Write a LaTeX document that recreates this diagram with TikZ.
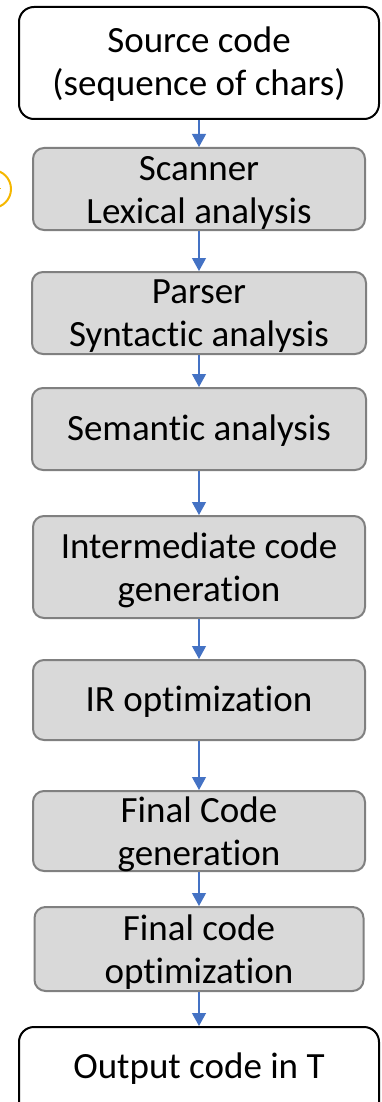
\documentclass[tikz,border=0pt]{standalone}
\usepackage{fontspec}
\setmainfont[Ligatures={NoCommon}]{Carlito}
\usetikzlibrary{arrows.meta}
\begin{document}
\begin{tikzpicture}[x=1pt,y=-1pt,
  endbox/.style={draw=black, line width=2pt, rounded corners=15pt, fill=white, inner sep=0pt},
  stepbox/.style={draw=black!50, line width=2pt, rounded corners=11pt, fill=black!15, inner sep=0pt},
  txt/.style={font=\fontsize{37}{43}\selectfont, align=center, inner sep=0pt},
  flow/.style={draw={rgb,255:red,68;green,114;blue,196}, line width=1.2pt, -{Triangle[length=13pt,width=14pt]}, shorten >=0pt},
]
\useasboundingbox (0,0) rectangle (381,1102);
\clip (0,0) rectangle (381,1102);
% orange partial circle
\draw[draw={rgb,255:red,245;green,183;blue,0}, line width=2pt] (-8,189) circle (19);
\draw[draw={rgb,255:red,245;green,183;blue,0}, line width=1pt] (-2,189) -- (1,189);
% boxes
\node[endbox, minimum width=360pt, minimum height=112pt] (src) at (199,63) {};
\node[stepbox, minimum width=332pt, minimum height=82pt] (scan) at (199,189) {};
\node[stepbox, minimum width=334pt, minimum height=82pt] (pars) at (199,313) {};
\node[stepbox, minimum width=334pt, minimum height=82pt] (sem) at (199,429) {};
\node[stepbox, minimum width=332pt, minimum height=102pt] (inter) at (199,567) {};
\node[stepbox, minimum width=332pt, minimum height=80pt] (ir) at (199,700) {};
\node[stepbox, minimum width=332pt, minimum height=80pt] (fcg) at (199,831) {};
\node[stepbox, minimum width=329pt, minimum height=84pt] (fco) at (199,949) {};
\node[endbox, minimum width=360pt, minimum height=100pt] (out) at (199,1077) {};
% texts
\node[txt] (tsrc) at (199,64) {Source code\\(sequence of chars)};
\node[txt] (tscan) at (199,193) {Scanner\\Lexical analysis};
\node[txt] (tpars) at (199,316) {Parser\\Syntactic analysis};
\node[txt] (tsem) at (199,431) {Semantic analysis};
\node[txt] (tinter) at (199,570) {Intermediate code\\generation};
\node[txt] (tir) at (199,702) {IR optimization};
\node[txt] (tfcg) at (199,834) {Final Code\\generation};
\node[txt] (tfco) at (199,952) {Final code\\optimization};
\node[txt] (tout) at (199,1069) {Output code in T};
% arrows
\draw[flow] (src.south) -- (scan.north);
\draw[flow] (scan.south) -- (pars.north);
\draw[flow] (pars.south) -- (sem.north);
\draw[flow] (sem.south) -- (inter.north);
\draw[flow] (inter.south) -- (ir.north);
\draw[flow] (ir.south) -- (fcg.north);
\draw[flow] (fcg.south) -- (fco.north);
\draw[flow] (fco.south) -- (out.north);
\end{tikzpicture}
\end{document}
